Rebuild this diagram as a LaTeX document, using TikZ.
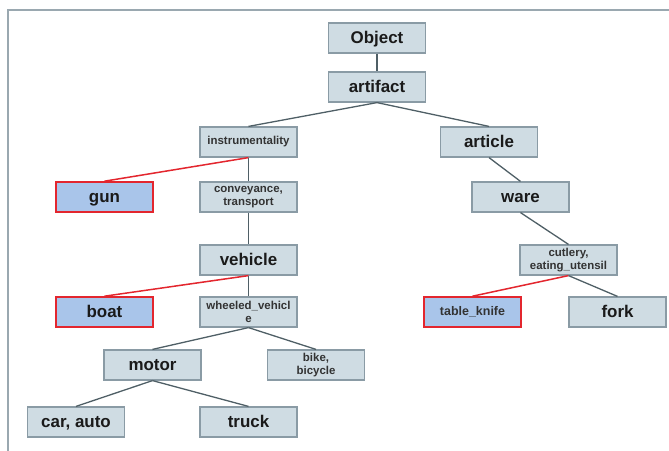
\documentclass[tikz,border=0pt]{standalone}
\usepackage{fontspec}
\setmainfont{Liberation Sans}
\begin{document}
\begin{tikzpicture}[x=1bp,y=-1bp,
  box/.style={draw=boxline,fill=boxfill,line width=1.2bp,minimum width=97bp,minimum height=30bp,inner sep=0pt,text=txt,align=center},
  big/.style={font=\fontsize{17}{18}\selectfont\bfseries,text height=14bp,text depth=3bp},
  small/.style={font=\fontsize{11.5}{12.5}\selectfont\bfseries,text=smalltxt},
  hl/.style={draw=hlred,fill=hlfill,line width=1.6bp},
  link/.style={draw=linkgray,line width=1.3bp},
  rlink/.style={draw=hlred,line width=1.5bp}]
\definecolor{boxfill}{HTML}{CFDCE3}
\definecolor{boxline}{HTML}{8A9BA5}
\definecolor{hlfill}{HTML}{A9C5EA}
\definecolor{hlred}{HTML}{E3262E}
\definecolor{linkgray}{HTML}{4F5F66}
\definecolor{txt}{HTML}{1A1A1A}
\definecolor{smalltxt}{HTML}{333333}
\definecolor{frame}{HTML}{9AA8B0}
\useasboundingbox (0,0) rectangle (669,451);
\draw[frame,line width=1.5bp] (8,451) -- (8,10) -- (669,10);
\node[box,big] (object) at (377,38) {Object};
\node[box,big] (artifact) at (377,87) {artifact};
\node[box,small] (instr) at (248.5,142) {instrumentality};
\node[box,big] (article) at (489,142) {article};
\node[box,big,hl] (gun) at (104.5,197) {gun};
\node[box,small] (convey) at (248.5,197) {conveyance,\\transport};
\node[box,big] (ware) at (520.5,197) {ware};
\node[box,big] (vehicle) at (248.5,260) {vehicle};
\node[box,small] (cutlery) at (568.5,260) {cutlery,\\eating\_utensil};
\node[box,big,hl] (boat) at (104.5,312) {boat};
\node[box,small] (wheeled) at (248.5,312) {wheeled\_vehicl\\e};
\node[box,small,hl,font=\fontsize{12.5}{13}\selectfont\bfseries] (knife) at (472.5,312) {table\_knife};
\node[box,big] (fork) at (617.5,312) {fork};
\node[box,big] (motor) at (152.5,365) {motor};
\node[box,small] (bike) at (316,365) {bike,\\bicycle};
\node[box,big] (car) at (76,422) {car, auto};
\node[box,big] (truck) at (248.5,422) {truck};
\draw[link] (object.south) -- (artifact.north);
\draw[link] (artifact.south) -- (instr.north);
\draw[link] (artifact.south) -- (article.north);
\draw[rlink] (instr.south) -- (gun.north);
\draw[link] (instr.south) -- (convey.north);
\draw[link] (article.south) -- (ware.north);
\draw[link] (convey.south) -- (vehicle.north);
\draw[link] (ware.south) -- (cutlery.north);
\draw[rlink] (vehicle.south) -- (boat.north);
\draw[link] (vehicle.south) -- (wheeled.north);
\draw[rlink] (cutlery.south) -- (knife.north);
\draw[link] (cutlery.south) -- (fork.north);
\draw[link] (wheeled.south) -- (motor.north);
\draw[link] (wheeled.south) -- (bike.north);
\draw[link] (motor.south) -- (car.north);
\draw[link] (motor.south) -- (truck.north);
\end{tikzpicture}
\end{document}
